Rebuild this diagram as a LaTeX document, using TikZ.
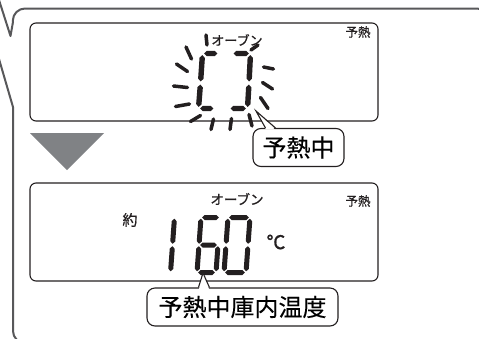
\documentclass[tikz,border=0pt]{standalone}
\usepackage{fontspec}
\newfontfamily\jp{Noto Sans CJK JP}[UprightFeatures={FakeBold=0.3}]
\newfontfamily\jpm{Noto Sans CJK JP}[UprightFeatures={FakeBold=0.8}]
\usetikzlibrary{calc}
\definecolor{ink}{RGB}{35,31,32}
\definecolor{framegray}{RGB}{88,88,90}
\definecolor{trigray}{RGB}{128,130,133}
% thin LCD segment (bottom digits)
\newcommand\sgA[2]{\fill[ink] ($(#1)!1.2pt!(#2)$) -- ($(#1)!3.7pt!(#2)!2.5pt!90:(#2)$) -- ($(#2)!3.7pt!(#1)!2.5pt!-90:(#1)$) -- ($(#2)!1.2pt!(#1)$) -- ($(#2)!3.7pt!(#1)!2.5pt!90:(#1)$) -- ($(#1)!3.7pt!(#2)!2.5pt!-90:(#2)$) -- cycle;}
% thick LCD segment (blinking digit)
\newcommand\sgB[2]{\fill[ink] ($(#1)!1.6pt!(#2)$) -- ($(#1)!4.3pt!(#2)!2.7pt!90:(#2)$) -- ($(#2)!4.3pt!(#1)!2.7pt!-90:(#1)$) -- ($(#2)!1.6pt!(#1)$) -- ($(#2)!4.3pt!(#1)!2.7pt!90:(#1)$) -- ($(#1)!4.3pt!(#2)!2.7pt!-90:(#2)$) -- cycle;}
\newcommand\mkdigit[4]{%
  \coordinate (#1tl) at (#2,#3);
  \coordinate (#1tr) at (#2+#4,#3);
  \coordinate (#1ml) at (#2-2,#3+27.5);
  \coordinate (#1mr) at (#2+#4-2,#3+27.5);
  \coordinate (#1bl) at (#2-4,#3+55);
  \coordinate (#1br) at (#2+#4-4,#3+55);}
\tikzset{
  panel/.style={draw=ink, line width=1.1pt, rounded corners=6pt},
  lab/.style={draw=ink, line width=1.1pt, fill=white, rounded corners=8pt, inner sep=0pt, font=\jp\fontsize{24}{24}\selectfont},
  ptr/.style={draw=ink, line width=1.1pt, line join=miter},
  small/.style={inner sep=0pt, text=ink, font=\jpm\fontsize{12.5}{13}\selectfont},
  flash/.style={ink, line width=3.5pt, line cap=round},
}
\begin{document}
\begin{tikzpicture}[x=1pt,y=-1pt]
\useasboundingbox (0,0) rectangle (479,338);
\clip (0,0) rectangle (479,338);
% outer callout frame
\draw[framegray, line width=2pt, line join=round] (-1,0) -- (10.5,36) -- (12.8,23) [rounded corners=12pt] -- (13,8.5) -- (489,8.5) -- (489,343) -- (13,343) [sharp corners] -- (13,107) -- (-1,59);
% panels
\draw[panel] (30,23) rectangle (378,121);
\draw[panel] (30,183) rectangle (378,281);
% arrow triangle
\fill[trigray] (30,133) -- (104,133) -- (67,170) -- cycle;
% top panel texts
\node[small, font=\jpm\fontsize{13}{13}\selectfont] (ov1) at (237,40) {オーブン};
\node[small] (yn1) at (358,32) {予熱};
% blinking digit
\coordinate (p1) at (202.5,53.5);
\coordinate (p2) at (219,53.5);
\coordinate (p3) at (232,53.5);
\coordinate (p4) at (250.5,53.5);
\coordinate (p5) at (200.5,83);
\coordinate (p6) at (249,83);
\coordinate (p7) at (198.5,108.5);
\coordinate (p8) at (215,108.5);
\coordinate (p9) at (229,108.5);
\coordinate (p10) at (247.5,108.5);
\sgB{p1}{p2}\sgB{p3}{p4}\sgB{p1}{p5}\sgB{p5}{p7}\sgB{p4}{p6}\sgB{p6}{p10}\sgB{p7}{p8}\sgB{p9}{p10}
% flash marks
\draw[flash] (206,35) -- (207,45);
\draw[flash] (186,47) -- (191.5,59);
\draw[flash] (176.5,64) -- (187.5,71.5);
\draw[flash] (173.5,86) -- (187.5,87.5);
\draw[flash] (175.5,106.5) -- (189.5,104);
\draw[flash] (190.5,121.5) -- (200.5,115.5);
\draw[flash] (211,129.5) -- (213.5,119);
\draw[flash] (230,129.5) -- (231.5,118.5);
\draw[flash] (249,114.5) -- (252,126);
\draw[flash] (260.5,97.5) -- (268,108.5);
\draw[flash] (262.5,82.5) -- (272.5,89);
\draw[flash] (263.5,67) -- (273.5,69);
\draw[flash] (251,50) -- (258,45);
% bottom panel texts
\node[small, font=\jpm\fontsize{13.5}{14}\selectfont] (ov2) at (237,199) {オーブン};
\node[small] (yn2) at (358,201) {予熱};
\node[small, font=\jpm\fontsize{15}{15}\selectfont] (ya) at (130,220) {約};
\node[small, font=\jpm\fontsize{19}{19}\selectfont] (dc) at (276,242) {℃};
% digits 1 6 0
\mkdigit{a}{155.5}{217.5}{19}
\mkdigit{b}{201}{217.5}{19}
\mkdigit{c}{228}{217.5}{22}
\sgA{atr}{amr}\sgA{amr}{abr}
\sgA{btl}{btr}\sgA{btl}{bml}\sgA{bml}{bmr}\sgA{bml}{bbl}\sgA{bmr}{bbr}\sgA{bbl}{bbr}
\sgA{ctl}{ctr}\sgA{ctl}{cml}\sgA{ctr}{cmr}\sgA{cml}{cbl}\sgA{cmr}{cbr}\sgA{cbl}{cbr}
% labels with pointers
\node[lab, minimum width=91pt, minimum height=38pt] (l1) at (298.5,147.5) {予熱中};
\coordinate (t1) at (256,111);
\fill[white] ($(l1.north west)+(13.5,1.5)$) -- (t1) -- ($(l1.north west)+(22.5,1.5)$) -- cycle;
\draw[ptr] ($(l1.north west)+(13,0)$) -- (t1) -- ($(l1.north west)+(23,0)$);
\node[lab, minimum width=191pt, minimum height=38pt] (l2) at (242.5,307) {予熱中庫内温度};
\coordinate (t2) at (203,273);
\fill[white] ($(l2.north west)+(52.5,1.5)$) -- (t2) -- ($(l2.north west)+(62.5,1.5)$) -- cycle;
\draw[ptr] ($(l2.north west)+(52,0)$) -- (t2) -- ($(l2.north west)+(63,0)$);
\end{tikzpicture}
\end{document}
